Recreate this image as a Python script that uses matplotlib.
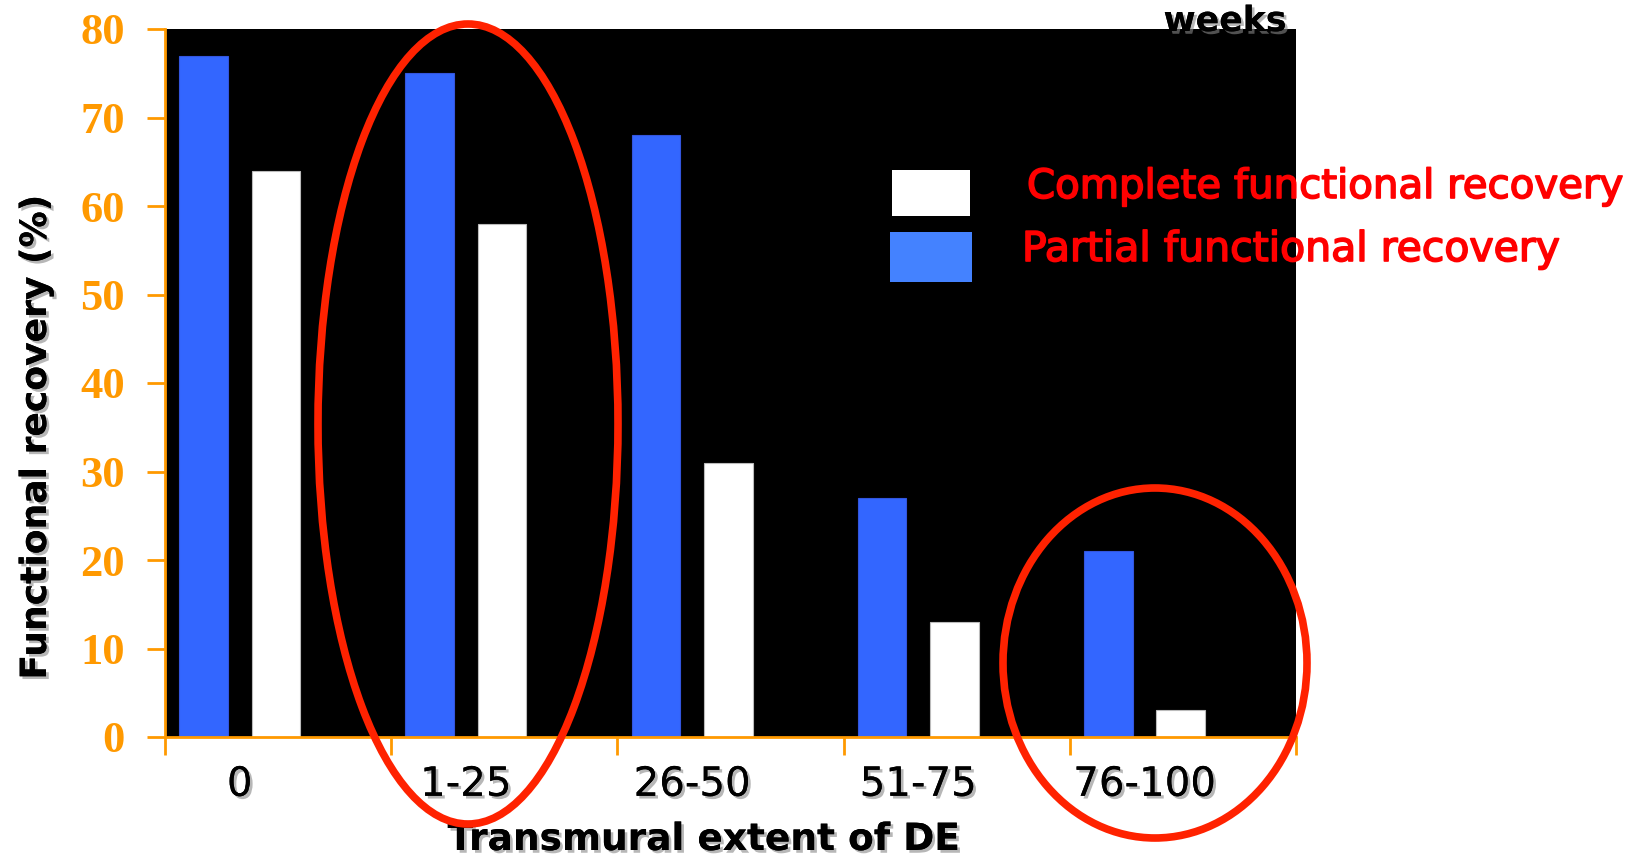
import numpy as np
import matplotlib
matplotlib.use("Agg")
import matplotlib.pyplot as plt
import matplotlib.patheffects as pe
from matplotlib.patches import Ellipse, Rectangle

# transmural extent groups and recovery rates (%)
categories = ['0', '1-25', '26-50', '51-75', '76-100']
partial = [77, 75, 68, 27, 21]
complete = [64, 58, 31, 13, 3]
yticks = [0, 10, 20, 30, 40, 50, 60, 70, 80]

W, H = 1630, 861
fig = plt.figure(figsize=(W / 100, H / 100), dpi=100)
fig.patch.set_facecolor('white')

ax = fig.add_axes([165 / W, 1 - 737 / H, (1296 - 165) / W, (737 - 29) / H])
ax.set_facecolor('black')

orange = '#FF9900'
blue = '#3366FF'
shadow = [pe.withSimplePatchShadow(offset=(2, -2), shadow_rgbFace='#888888', alpha=0.6), pe.Normal()]

x = np.arange(len(categories))
ax.bar(x + 0.17, partial, width=0.215, color=blue, edgecolor='#3355DD', linewidth=0.8)
ax.bar(x + 0.49, complete, width=0.215, color='white', edgecolor='#BBBBBB', linewidth=0.8)

ax.set_xlim(0, len(categories))
ax.set_ylim(0, 80)

# ticks sit on group boundaries, labels under the middle of each pair
ax.set_xticks(np.arange(len(categories) + 1))
ax.set_xticklabels([])
ax.set_xticks(x + 0.33, minor=True)
ax.set_xticklabels(categories, minor=True, fontsize=29, family='DejaVu Sans',
                   path_effects=shadow)
ax.tick_params(axis='x', which='minor', length=0, pad=20)
ax.tick_params(axis='x', which='major', length=13, width=2, color=orange, direction='out')

ax.set_yticks(yticks)
ax.set_yticklabels([str(v) for v in yticks], fontsize=32, fontweight='bold',
                   family='Liberation Serif', color=orange)
ax.tick_params(axis='y', length=13, width=2, color=orange, pad=16)

for side in ['top', 'right']:
    ax.spines[side].set_visible(False)
for side in ['left', 'bottom']:
    ax.spines[side].set_color(orange)
    ax.spines[side].set_linewidth(2)

fig.text(36 / W, 1 - 437 / H, 'Functional recovery (%)', rotation=90, ha='center', va='center',
         fontsize=26, fontweight='bold', path_effects=shadow)
fig.text(704 / W, 1 - 840 / H, 'Transmural extent of DE', ha='center', va='center',
         fontsize=27, fontweight='bold', path_effects=shadow)
fig.text(1225 / W, 1 - 31 / H, 'weeks', ha='center', va='baseline',
         fontsize=25, fontweight='bold', path_effects=shadow)

# legend swatches and labels
fig.patches.append(Rectangle((892 / W, 1 - 216 / H), 78 / W, 46 / H, transform=fig.transFigure,
                             facecolor='white', edgecolor='none', zorder=5))
fig.patches.append(Rectangle((890 / W, 1 - 282 / H), 82 / W, 50 / H, transform=fig.transFigure,
                             facecolor='#4482FF', edgecolor='none', zorder=5))
legend_fx = [pe.withStroke(linewidth=1.2, foreground='red')]
fig.text(1027 / W, 1 - 187 / H, 'Complete functional recovery', ha='left', va='center',
         fontsize=29, color='red', zorder=6, path_effects=legend_fx)
fig.text(1022 / W, 1 - 250 / H, 'Partial functional recovery', ha='left', va='center',
         fontsize=29.5, color='red', zorder=6, path_effects=legend_fx)

# highlight circles
fig.patches.append(Ellipse((468 / W, 1 - 424 / H), 300 / W, 800 / H, transform=fig.transFigure,
                           fill=False, edgecolor='#FF2200', linewidth=5.5, zorder=7))
fig.patches.append(Ellipse((1155 / W, 1 - 663 / H), 304 / W, 350 / H, transform=fig.transFigure,
                           fill=False, edgecolor='#FF2200', linewidth=5.5, zorder=7))

fig.savefig('out.png', dpi=100)
